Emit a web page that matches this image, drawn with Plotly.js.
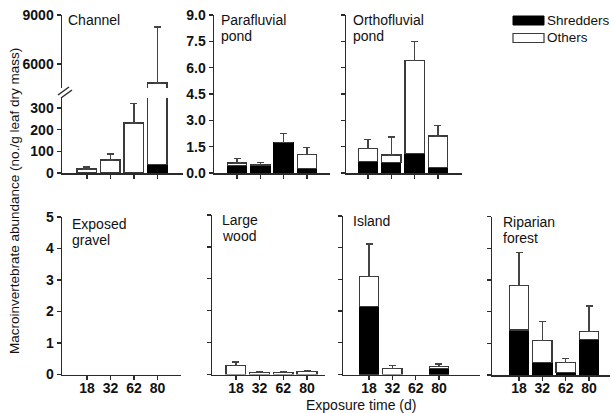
<!DOCTYPE html>
<html>
<head>
<meta charset="utf-8">
<script src="https://cdn.plot.ly/plotly-3.0.1.min.js"></script>
<style>html,body{margin:0;padding:0;background:#fff;}#chart{width:611px;height:413px;}</style>
</head>
<body>
<div id="chart"></div>
<script>
// ---- data ----
var categories = ['18', '32', '62', '80'];

var channelShred = [0, 0, 3, 40];
var channelTotal = [18, 60, 230, 4840];
var channelErr   = [28, 88, 322, 8270];

var paraShred = [0.42, 0.43, 1.73, 0.25];
var paraTotal = [0.57, 0.47, 1.73, 1.04];
var paraErr   = [0.82, 0.59, 2.24, 1.46];

var orthoShred = [0.67, 0.59, 1.10, 0.32];
var orthoTotal = [1.40, 1.02, 6.42, 2.10];
var orthoErr   = [1.92, 2.05, 7.48, 2.69];

var gravelShred = [0, 0, 0, 0];
var gravelTotal = [0, 0, 0, 0];
var gravelErr   = [0, 0, 0, 0];

var woodShred = [0, 0, 0, 0];
var woodTotal = [0.29, 0.06, 0.06, 0.09];
var woodErr   = [0.39, 0.09, 0.09, 0.13];

var islandShred = [2.14, 0, 0, 0.19];
var islandTotal = [3.10, 0.19, 0, 0.25];
var islandErr   = [4.12, 0.29, 0, 0.33];

var riparianShred = [1.42, 0.40, 0.08, 1.12];
var riparianTotal = [2.82, 1.08, 0.40, 1.38];
var riparianErr   = [3.87, 1.68, 0.52, 2.18];

var seriesNames = ['Shredders', 'Others'];
var channelTicksLow = [0, 100, 200, 300];
var channelTicksHigh = [6000, 9000];
var pondTicks = [0, 1.5, 3, 4.5, 6, 7.5, 9];
var lowTicks = [0, 1, 2, 3, 4, 5];

// ---- helpers ----
var W = 611, H = 413;
function fx(px) { return px / W; }
function fy(py) { return 1 - py / H; }

var lineCol = '#2a2a2a';
var barLine = '#3a3a3a';
var errCol = '#444444';
var FONT = 'Liberation Sans, Arial, Helvetica, sans-serif';

var traces = [];
function addPanel(xa, ya, shred, total, err) {
  var shredVals = shred.map(function (s) { return s > 0 ? s : null; });
  var others = total.map(function (t, i) { return t > 0 ? t - shred[i] : null; });
  var up = err.map(function (e, i) { return total[i] > 0 ? e - total[i] : null; });
  traces.push({
    type: 'bar', x: categories, y: shredVals, xaxis: xa, yaxis: ya,
    name: seriesNames[0], showlegend: false,
    marker: {color: '#000000', line: {color: '#000000', width: 1}}
  });
  traces.push({
    type: 'bar', x: categories, y: others, xaxis: xa, yaxis: ya,
    name: seriesNames[1], showlegend: false,
    marker: {color: '#ffffff', line: {color: barLine, width: 1.4}},
    error_y: {type: 'data', symmetric: false, array: up,
              arrayminus: up.map(function () { return 0; }),
              color: errCol, thickness: 1.4, width: 3.5}
  });
}
addPanel('x', 'y', channelShred, channelTotal, channelErr);
addPanel('x2', 'y2', channelShred, channelTotal, channelErr);
addPanel('x3', 'y3', paraShred, paraTotal, paraErr);
addPanel('x4', 'y4', orthoShred, orthoTotal, orthoErr);
addPanel('x5', 'y5', gravelShred, gravelTotal, gravelErr);
addPanel('x6', 'y6', woodShred, woodTotal, woodErr);
addPanel('x7', 'y7', islandShred, islandTotal, islandErr);
addPanel('x8', 'y8', riparianShred, riparianTotal, riparianErr);

var tickFont = {family: FONT, size: 14, color: '#111', weight: 'bold'};

function xAxis(x0, x1, r, anchor, labels, visible) {
  return {
    domain: [fx(x0), fx(x1)], range: r, anchor: anchor, type: 'category',
    categoryorder: 'array', categoryarray: categories,
    showline: true, linecolor: lineCol, linewidth: 1.5,
    ticks: 'outside', ticklen: 4, tickwidth: 1.3, tickcolor: lineCol,
    showticklabels: labels, tickfont: tickFont, ticklabelstandoff: -4,
    showgrid: false, zeroline: false, fixedrange: true,
    visible: visible
  };
}
function yAxis(top, bottom, r, anchor, tv, labels, fmt) {
  return {
    domain: [fy(bottom), fy(top)], range: r, anchor: anchor,
    showline: true, linecolor: lineCol, linewidth: 1.5,
    ticks: 'outside', ticklen: 4, tickwidth: 1.3, tickcolor: lineCol,
    tickmode: 'array', tickvals: tv,
    ticktext: tv.map(function (v) { return fmt ? v.toFixed(1) : String(v); }),
    showticklabels: labels, tickfont: tickFont,
    showgrid: false, zeroline: false, fixedrange: true
  };
}

var layout = {
  width: W, height: H,
  margin: {l: 0, r: 0, t: 0, b: 0},
  paper_bgcolor: '#ffffff', plot_bgcolor: 'rgba(0,0,0,0)',
  barmode: 'stack', bargap: 0.17,
  showlegend: false,
  font: {family: FONT, size: 14, color: '#111'},

  xaxis:  xAxis(62, 183, [-1.06, 4.09], 'y', false, true),
  yaxis:  yAxis(98, 173, [0, 346], 'x', channelTicksLow, true, false),
  xaxis2: xAxis(62, 183, [-1.06, 4.09], 'y2', false, false),
  yaxis2: yAxis(15, 88, [4531, 9000], 'x2', channelTicksHigh, true, false),

  xaxis3: xAxis(214, 330, [-0.99, 3.99], 'y3', false, true),
  yaxis3: yAxis(15, 173, [0, 9], 'x3', pondTicks, true, true),
  xaxis4: xAxis(346, 462, [-0.94, 4.03], 'y4', false, true),
  yaxis4: yAxis(15, 173, [0, 9], 'x4', pondTicks, false, true),

  xaxis5: xAxis(62, 181, [-1.06, 4.0], 'y5', true, true),
  yaxis5: yAxis(217, 374.5, [0, 5], 'x5', lowTicks, true, false),
  xaxis6: xAxis(212, 325, [-1.01, 3.76], 'y6', true, true),
  yaxis6: yAxis(215, 374.5, [0, 5], 'x6', lowTicks, false, false),
  xaxis7: xAxis(343, 480, [-1.12, 4.76], 'y7', true, true),
  yaxis7: yAxis(216, 374.5, [0, 5], 'x7', lowTicks, false, false),
  xaxis8: xAxis(492, 610, [-1.16, 3.9], 'y8', true, true),
  yaxis8: yAxis(216.5, 375, [0, 5], 'x8', lowTicks, false, false),

  shapes: [
    // axis break marks on the Channel y axis
    {type: 'line', xref: 'paper', yref: 'paper', x0: fx(58), y0: fy(95), x1: fx(69), y1: fy(87),
     line: {color: lineCol, width: 1.5}},
    {type: 'line', xref: 'paper', yref: 'paper', x0: fx(61), y0: fy(98), x1: fx(72), y1: fy(90),
     line: {color: lineCol, width: 1.5}},
    // legend keys
    {type: 'rect', xref: 'paper', yref: 'paper', x0: fx(513), x1: fx(544), y0: fy(25), y1: fy(16),
     fillcolor: '#000000', line: {color: '#000000', width: 1}},
    {type: 'rect', xref: 'paper', yref: 'paper', x0: fx(513), x1: fx(544), y0: fy(42.5), y1: fy(33.5),
     fillcolor: '#ffffff', line: {color: barLine, width: 1.2}}
  ],
  annotations: []
};

function note(text, px, py, opts) {
  var a = {text: text, xref: 'paper', yref: 'paper', x: fx(px), y: fy(py),
           xanchor: 'left', yanchor: 'middle', showarrow: false,
           font: {family: FONT, size: 14, color: '#111'}};
  for (var k in opts) a[k] = opts[k];
  layout.annotations.push(a);
}
note('Channel', 66, 20);
note('Parafluvial', 219, 20);
note('pond', 219, 36);
note('Orthofluvial', 351, 20);
note('pond', 351, 36);
note('Exposed', 70, 224);
note('gravel', 70, 240);
note('Large', 220, 220);
note('wood', 220, 236);
note('Island', 351, 221);
note('Riparian', 501, 222);
note('forest', 501, 238);
note(seriesNames[0], 545, 20.5, {font: {family: FONT, size: 13.5, color: '#111'}});
note(seriesNames[1], 545, 38, {font: {family: FONT, size: 13.5, color: '#111'}});
note('Exposure time (d)', 361, 404.5, {xanchor: 'center'});
note('Macroinvertebrate abundance (no./g leaf dry mass)', 14, 201, {xanchor: 'center', textangle: -90,
     font: {family: FONT, size: 13.5, color: '#111'}});

Plotly.newPlot('chart', traces, layout, {displayModeBar: false, staticPlot: true});
</script>
</body>
</html>
